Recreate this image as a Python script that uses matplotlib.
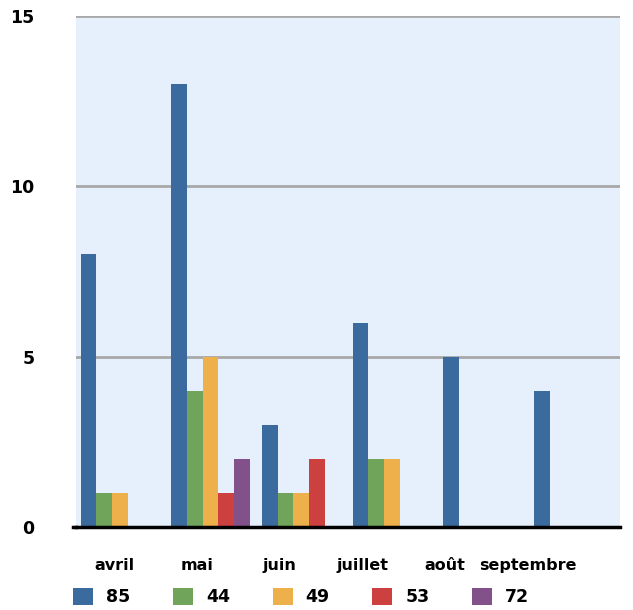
import matplotlib.pyplot as plt
import numpy as np

months = ["avril", "mai", "juin", "juillet", "août", "septembre"]
series_names = ["85", "44", "49", "53", "72"]
s85 = [8, 13, 3, 6, 5, 4]
s44 = [1, 4, 1, 2, 0, 0]
s49 = [1, 5, 1, 2, 0, 0]
s53 = [0, 1, 2, 0, 0, 0]
s72 = [0, 2, 0, 0, 0, 0]
colors = ["#3b6b9e", "#6fa45a", "#edb04b", "#cc4140", "#835189"]

plt.rcParams["font.family"] = "DejaVu Sans"
plt.rcParams["font.weight"] = "bold"

fig = plt.figure(figsize=(6.33, 6.10), dpi=100)
ax = fig.add_axes([0.12, 0.136, 0.8595, 0.838])
ax.set_facecolor("#e5f0fc")

x = np.arange(len(months))
w = 0.173
for i, (name, vals) in enumerate(zip(series_names, [s85, s44, s49, s53, s72])):
    ax.bar(x - 2 * w + i * w - 0.015, vals, width=w, color=colors[i], label=name, zorder=3)

ax.set_xlim(-0.5, len(months) - 0.5)
ax.set_ylim(0, 15)
ax.set_yticks([0, 5, 10, 15])
# the month labels sit a bit tighter than the groups in the original
ax.set_xticks(-0.081 + 0.913 * x)
ax.set_xticklabels(months)
ax.yaxis.grid(True, color="#a8a8a8", lw=2)
ax.set_axisbelow(True)
for s in ["left", "right", "top"]:
    ax.spines[s].set_visible(False)
ax.spines["bottom"].set_linewidth(2.5)
ax.spines["bottom"].set_zorder(4)
ax.tick_params(axis="y", length=0, pad=30, labelsize=12.5)
ax.tick_params(axis="x", length=0, pad=22, labelsize=11.5)
ax.plot([-0.535, -0.5], [0, 0], color="black", lw=2.5, clip_on=False, zorder=4)

fig.legend(loc="lower left", bbox_to_anchor=(0.105, -0.005), ncol=5, frameon=False,
           fontsize=12.5, handlelength=1.15, handleheight=1.15, handletextpad=0.75,
           columnspacing=2.45, borderaxespad=0)

fig.savefig("out.png", dpi=100)
